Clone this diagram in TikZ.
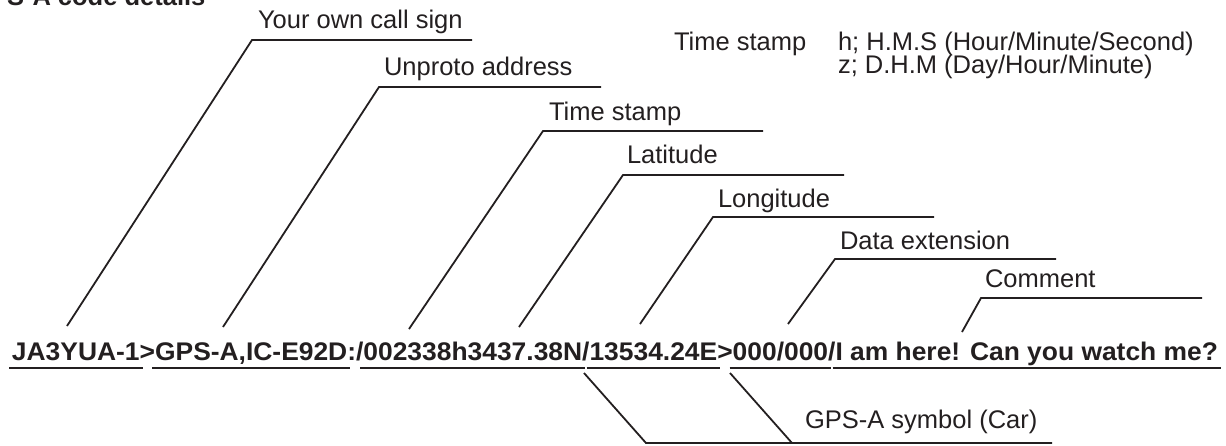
\documentclass[tikz,border=0pt]{standalone}
\usepackage{fontspec}
\setmainfont{Liberation Sans}
\usepackage{graphicx}
\definecolor{ink}{RGB}{35,31,32}
\newlength\codewd
\newcommand\codeseg[1]{\scalebox{\cx}[1]{#1}}
\tikzset{
  lbl/.style={font=\fontsize{25.5}{30}\selectfont, text=ink, inner sep=0pt, outer sep=0pt, anchor=base west},
  ttl/.style={lbl, font=\fontsize{25.5}{30}\selectfont\bfseries},
  code/.style={font=\fontsize{25.5}{30}\selectfont\bfseries, text=ink, inner sep=0pt, outer sep=0pt, anchor=base west},
  lead/.style={draw=ink, line width=1.8pt, line join=miter},
  uline/.style={draw=ink, line width=2.6pt},
}
\begin{document}
\settowidth{\codewd}{\fontsize{25.5}{30}\selectfont\bfseries JA3YUA-1>GPS-A,IC-E92D:/002338h3437.38N/13534.24E>000/000/I am here! Can you watch me?}
\pgfmathsetmacro\cx{1206/\codewd}
\begin{tikzpicture}[x=1pt,y=-1pt]
\useasboundingbox (0,0) rectangle (1226,445);
\clip (0,0) rectangle (1226,445);

% title (clipped at top)
\node[ttl] (title) at (7,5) {S-A code details};

% code line
\node[code] (s1) at (12,360) {\codeseg{JA3YUA-1}};
\node[code] (s2) at (s1.base east) {\codeseg{>}};
\node[code] (s3) at (s2.base east) {\codeseg{GPS-A,IC-E92D}};
\node[code] (s4) at (s3.base east) {\codeseg{:/}};
\node[code] (s5) at (s4.base east) {\codeseg{002338h}};
\node[code] (s6) at (s5.base east) {\codeseg{3437.38N}};
\node[code] (s7) at (s6.base east) {\codeseg{/}};
\node[code] (s8) at (s7.base east) {\codeseg{13534.24E}};
\node[code] (s9) at (s8.base east) {\codeseg{>}};
\node[code] (s10) at (s9.base east) {\codeseg{000/000}};
\node[code] (s11) at (s10.base east) {\codeseg{/}};
\node[code] (s12) at (s11.base east) {\codeseg{I am here! Can you watch me?}};

\foreach \s in {s1,s3,s5,s6,s8,s10,s12}{
  \draw[uline] ([xshift=-3pt,yshift=-8pt]\s.base west) -- ([xshift=3pt,yshift=-8pt]\s.base east);
}

% labels above
\coordinate (a1) at (67,326);  \coordinate (b1) at (252,40);  \coordinate (c1) at (472,40);
\coordinate (a2) at (223,327); \coordinate (b2) at (379,87);  \coordinate (c2) at (601,87);
\coordinate (a3) at (409,329); \coordinate (b3) at (543,131); \coordinate (c3) at (763,131);
\coordinate (a4) at (519,327); \coordinate (b4) at (623,175); \coordinate (c4) at (844,175);
\coordinate (a5) at (640,324); \coordinate (b5) at (713,217); \coordinate (c5) at (934,217);
\coordinate (a6) at (788,324); \coordinate (b6) at (835,259); \coordinate (c6) at (1056,259);
\coordinate (a7) at (962,332); \coordinate (b7) at (981,298); \coordinate (c7) at (1202,298);

\foreach \i in {1,...,7}{ \draw[lead] (a\i) -- (b\i) -- (c\i); }

\node[lbl] (t1) at (258,28) {Your own call sign};
\node[lbl] (t2) at (384,75) {Unproto address};
\node[lbl] (t3) at (549,120) {Time stamp};
\node[lbl] (t4) at (627,163) {Latitude};
\node[lbl] (t5) at (718,207) {Longitude};
\node[lbl] (t6) at (840,249) {Data extension};
\node[lbl] (t7) at (985,287) {Comment};

% time stamp note
\node[lbl] (n0) at (674,50) {Time stamp};
\node[lbl] (n1) at (838,50) {h; H.M.S (Hour/Minute/Second)};
\node[lbl] (n2) at (838,73) {z; D.H.M (Day/Hour/Minute)};

% GPS-A symbol
\coordinate (d1) at (584,373); \coordinate (e1) at (646,443);
\coordinate (d2) at (730,373); \coordinate (e2) at (792,443);
\coordinate (f1) at (1052,443);
\draw[lead] (d1) -- (e1) -- (f1);
\draw[lead] (d2) -- (e2);
\node[lbl] (g1) at (805,428) {GPS-A symbol (Car)};
\end{tikzpicture}
\end{document}
